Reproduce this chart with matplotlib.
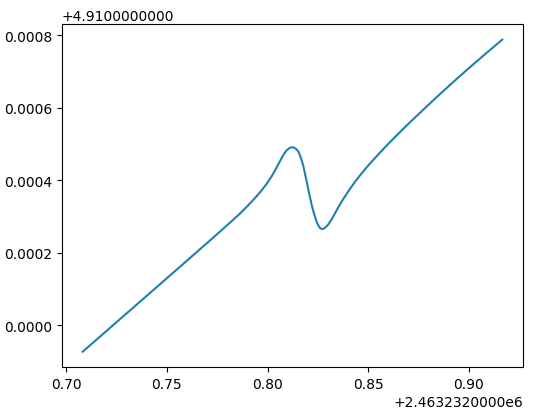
import matplotlib
matplotlib.use("Agg")
import matplotlib.pyplot as plt
from matplotlib.ticker import ScalarFormatter

jd = [2463232.70818, 2463232.71290, 2463232.71687, 2463232.72183, 2463232.72679,
      2463232.73175, 2463232.73755, 2463232.74167, 2463232.74663, 2463232.75159,
      2463232.75655, 2463232.76151, 2463232.76796, 2463232.77242, 2463232.77639,
      2463232.78135, 2463232.78631, 2463232.79028, 2463232.79375, 2463232.79673,
      2463232.79955, 2463232.80169, 2463232.80367, 2463232.80541, 2463232.80690,
      2463232.80813, 2463232.80938, 2463232.81062, 2463232.81196, 2463232.81310,
      2463232.81434, 2463232.81533, 2463232.81622, 2463232.81706, 2463232.81781,
      2463232.81855, 2463232.81940, 2463232.82029, 2463232.82118, 2463232.82202,
      2463232.82302, 2463232.82401, 2463232.82500, 2463232.82599, 2463232.82684,
      2463232.82773, 2463232.82872, 2463232.82996, 2463232.83145, 2463232.83318,
      2463232.83507, 2463232.83790, 2463232.84087, 2463232.84335, 2463232.84583,
      2463232.84831, 2463232.85079, 2463232.85575, 2463232.86071, 2463232.86731,
      2463232.87312, 2463232.88056, 2463232.88601, 2463232.89211, 2463232.89841,
      2463232.90536, 2463232.91081, 2463232.91662]

values = [4.9099265, 4.9099493, 4.9099686, 4.9099926, 4.9100168,
          4.9100407, 4.9100688, 4.9100889, 4.9101129, 4.9101371,
          4.9101610, 4.9101853, 4.9102167, 4.9102384, 4.9102580,
          4.9102827, 4.9103078, 4.9103298, 4.9103505, 4.9103694,
          4.9103898, 4.9104074, 4.9104262, 4.9104443, 4.9104600,
          4.9104719, 4.9104815, 4.9104875, 4.9104906, 4.9104900,
          4.9104853, 4.9104785, 4.9104675, 4.9104523, 4.9104385,
          4.9104193, 4.9103972, 4.9103738, 4.9103505, 4.9103298,
          4.9103092, 4.9102913, 4.9102775, 4.9102684, 4.9102651,
          4.9102657, 4.9102692, 4.9102761, 4.9102885, 4.9103050,
          4.9103243, 4.9103505, 4.9103752, 4.9103945, 4.9104124,
          4.9104292, 4.9104452, 4.9104754, 4.9105043, 4.9105410,
          4.9105721, 4.9106112, 4.9106392, 4.9106701, 4.9107012,
          4.9107348, 4.9107606, 4.9107879]


class LongOffsetFormatter(ScalarFormatter):
    def get_offset(self):
        if len(self.locs) == 0 or self.offset == 0:
            return ""
        s = "%1.10e" % abs(self.offset)
        mant, exp = s.split("e")
        exp = int(exp)
        txt = mant if exp == 0 else f"{mant}e{exp}"
        sign = "+" if self.offset > 0 else "-"
        return sign + txt


fig = plt.figure(figsize=(5.4, 4.14), dpi=100)
ax = fig.add_axes([0.1143, 0.1104, 0.8547, 0.8292])
ax.plot(jd, values, color="#1f80ae", linewidth=1.5)
ax.xaxis.set_major_formatter(LongOffsetFormatter())
ax.yaxis.set_major_formatter(LongOffsetFormatter())
fig.savefig("out.png", dpi=100)
